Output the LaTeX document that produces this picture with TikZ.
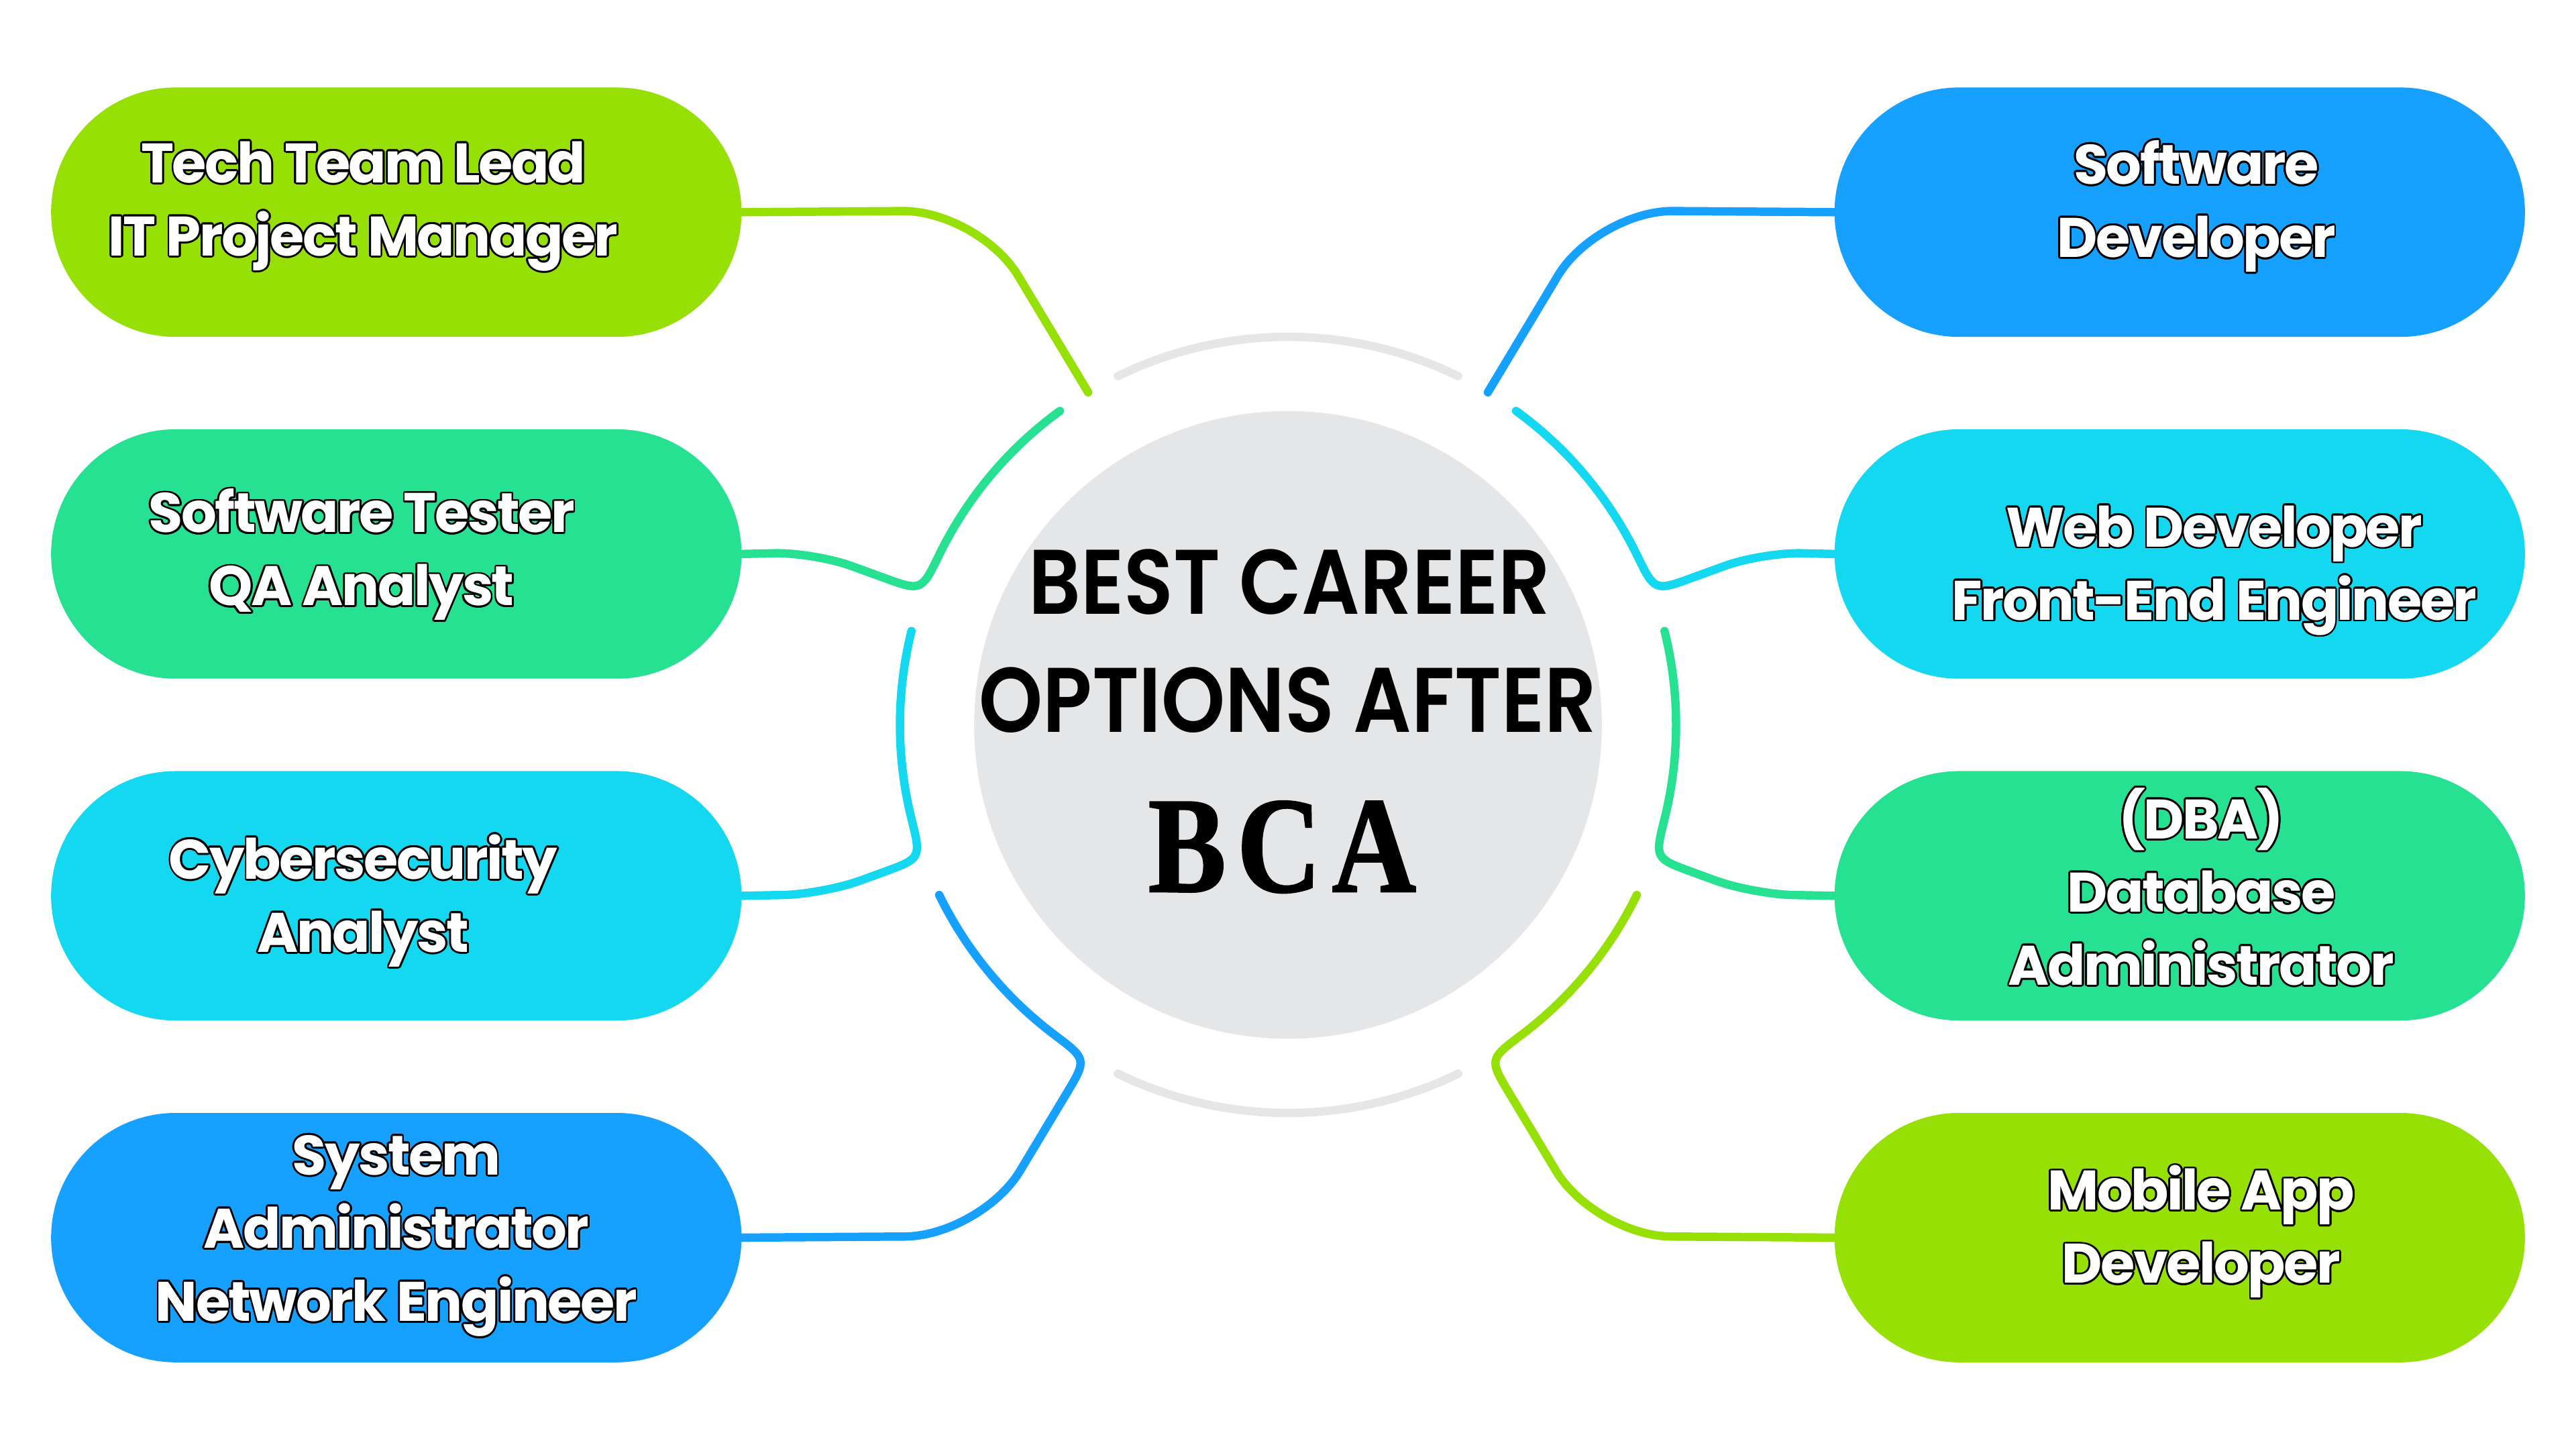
\documentclass[tikz,border=0pt]{standalone}
\usepackage{fontspec}
\usepackage[copies]{contour}
\setmainfont{Poppins}
\IfFontExistsTF{Poppins SemiBold}
  {\newfontfamily\popsemi{Poppins SemiBold}[FakeStretch=0.885]}
  {\newfontfamily\popsemi{Poppins}[FakeStretch=0.885,FakeBold=1.5]}
\IfFontExistsTF{Poppins Bold}
  {\newfontfamily\popbold{Poppins Bold}[LetterSpace=-3]}
  {\newfontfamily\popbold{Poppins}[LetterSpace=-3,FakeBold=2]}
\newfontfamily\bcafont{Liberation Serif}[FakeStretch=0.85,LetterSpace=8,FakeBold=1.2]
\usetikzlibrary{calc}
\usetikzlibrary{positioning}

\definecolor{limeC}{HTML}{97E005}
\definecolor{greenC}{HTML}{26E192}
\definecolor{cyanC}{HTML}{14D7F0}
\definecolor{blueC}{HTML}{16A0FF}
\definecolor{ringC}{HTML}{E6E6E8}
\definecolor{discC}{HTML}{E5E6E8}

\contourlength{0.8pt}
\newcommand{\olab}[1]{\contour{black}{#1}}

\tikzset{
  careerbox/.style={fill=#1, minimum width=10.45cm, minimum height=3.775cm,
    rounded corners=1.8875cm, inner sep=0pt},
  careertext/.style={text=white, align=center,
    font=\popbold\fontsize{24}{31.5}\selectfont},
  link/.style={draw=#1, line width=3.6pt, line cap=round},
  ringpart/.style={draw=ringC, line width=3.6pt, line cap=round},
}

\begin{document}
\begin{tikzpicture}[x=0.025cm, y=0.025cm]
  \useasboundingbox[fill=white] (0,0) rectangle (1560,877.5);

  % centre disc
  \coordinate (c) at (780,438.5);
  \node[circle, fill=discC, minimum size=9.5cm, inner sep=0pt] (disc) at (c) {};
  \node[font=\popsemi\fontsize{39.5}{51}\selectfont, anchor=base] (title1) at (781,505.5) {BEST CAREER};
  \node[font=\popsemi\fontsize{39.5}{51}\selectfont, anchor=base] (title2) at (780,434) {OPTIONS AFTER};
  \node[font=\bcafont\bfseries\fontsize{59}{60}\selectfont, anchor=base] (bca) at (776.5,337.5) {BCA};

  % boxes, left column
  \node[careerbox=limeC]  (L1) at (240,749) {};
  \node[careerbox=greenC] (L2) at (240,542) {};
  \node[careerbox=cyanC]  (L3) at (240,335) {};
  \node[careerbox=blueC]  (L4) at (240,128) {};
  % boxes, right column
  \node[careerbox=blueC]  (R1) at (1320,749) {};
  \node[careerbox=cyanC]  (R2) at (1320,542) {};
  \node[careerbox=greenC] (R3) at (1320,335) {};
  \node[careerbox=limeC]  (R4) at (1320,128) {};

  % labels
  \node[careertext] (tL1) at (220,752) {\olab{Tech Team Lead}\\\olab{IT Project Manager}};
  \node[careertext] (tL2) at (219,541) {\olab{Software Tester}\\\olab{QA Analyst}};
  \node[careertext] (tL3) at (220,331.5) {\olab{Cybersecurity}\\\olab{Analyst}};
  \node[careertext] (tL4) at (240,128.5) {\olab{System}\\\olab{Administrator}\\\olab{Network Engineer}};
  \node[careertext] (tR1) at (1330,752) {\olab{Software}\\\olab{Developer}};
  \node[careertext] (tR2) at (1341,531.5) {\olab{Web Developer}\\\olab{Front-End Engineer}};
  \node[careertext] (tR3) at (1333,340) {\olab{(DBA)}\\\olab{Database}\\\olab{Administrator}};
  \node[careertext] (tR4) at (1333,131) {\olab{Mobile App}\\\olab{Developer}};

  % grey ring pieces
  \draw[ringpart] ($(c)+(64:235)$) arc[start angle=64, end angle=116, radius=5.875cm];
  \draw[ringpart] ($(c)+(244:235)$) arc[start angle=244, end angle=296, radius=5.875cm];

  % left links
  \draw[link=limeC] ($(c)+(121:235)$) [rounded corners=1.15cm] -- ($(c)+(121:363.4)$) -- (L1.east);
  \draw[link=greenC] ($(c)+(126:235)$) arc[start angle=126, end angle=154, radius=5.875cm]
    .. controls ($(c)+(160:236.3)$) .. ($(c)+(160:261)$)
    [rounded corners=0.6cm] -- ($(c)+(160:305.5)$) -- (L2.east);
  \draw[link=cyanC] ($(c)+(166:235)$) arc[start angle=166, end angle=194, radius=5.875cm]
    .. controls ($(c)+(200:236.3)$) .. ($(c)+(200:261)$)
    [rounded corners=0.6cm] -- ($(c)+(200:299.7)$) -- (L3.east);
  \draw[link=blueC] ($(c)+(206:235)$) arc[start angle=206, end angle=233, radius=5.875cm]
    .. controls ($(c)+(239:236.3)$) .. ($(c)+(239:261)$)
    [rounded corners=1.15cm] -- ($(c)+(239:361.1)$) -- (L4.east);

  % right links
  \draw[link=blueC] ($(c)+(59:235)$) [rounded corners=1.15cm] -- ($(c)+(59:363.4)$) -- (R1.west);
  \draw[link=cyanC] ($(c)+(54:235)$) arc[start angle=54, end angle=26, radius=5.875cm]
    .. controls ($(c)+(20:236.3)$) .. ($(c)+(20:261)$)
    [rounded corners=0.6cm] -- ($(c)+(20:305.5)$) -- (R2.west);
  \draw[link=greenC] ($(c)+(14:235)$) arc[start angle=14, end angle=-14, radius=5.875cm]
    .. controls ($(c)+(-20:236.3)$) .. ($(c)+(-20:261)$)
    [rounded corners=0.6cm] -- ($(c)+(-20:299.7)$) -- (R3.west);
  \draw[link=limeC] ($(c)+(-26:235)$) arc[start angle=-26, end angle=-53, radius=5.875cm]
    .. controls ($(c)+(-59:236.3)$) .. ($(c)+(-59:261)$)
    [rounded corners=1.15cm] -- ($(c)+(-59:361.1)$) -- (R4.west);
\end{tikzpicture}
\end{document}
